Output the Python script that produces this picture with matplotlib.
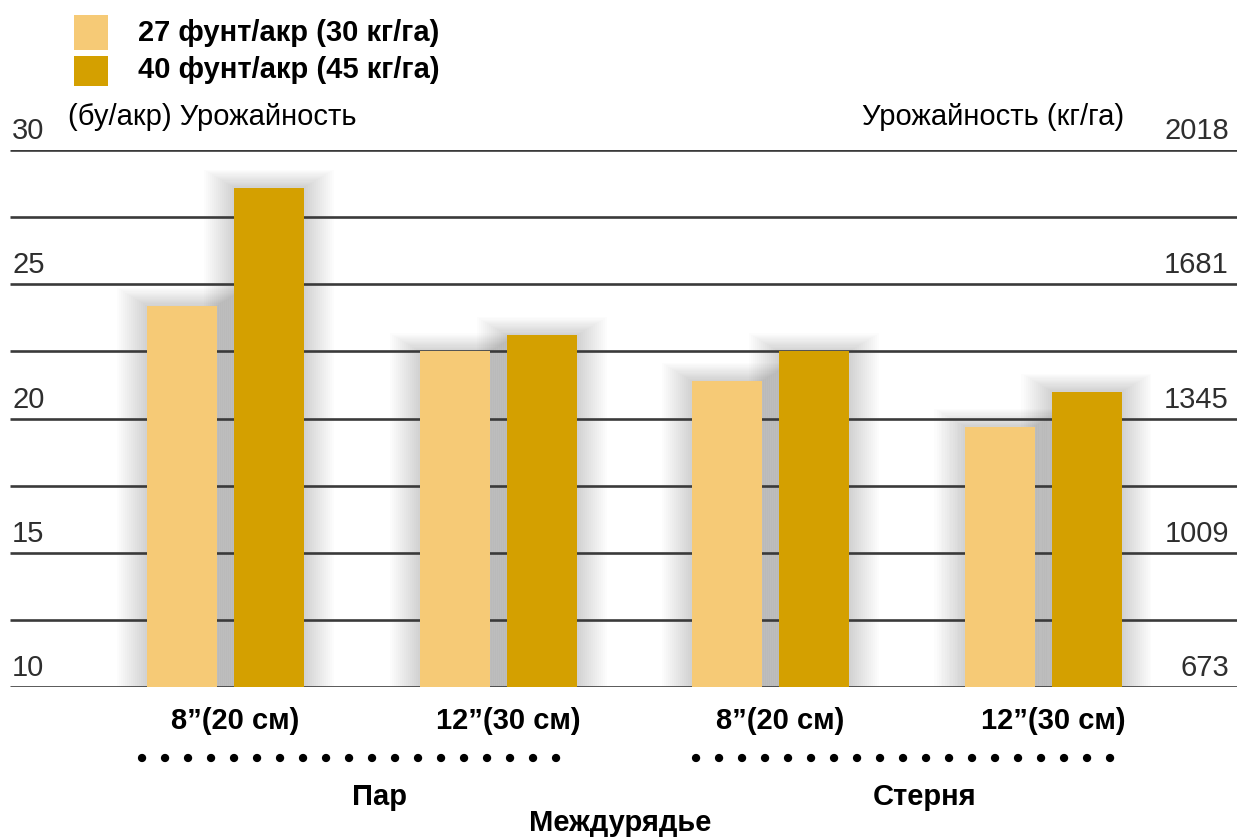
import matplotlib
matplotlib.use("Agg")
import matplotlib.pyplot as plt
from matplotlib.patches import Rectangle
from matplotlib.lines import Line2D

plt.rcParams['font.family'] = ['Liberation Sans', 'DejaVu Sans']

# ---- data ----
categories = ['8”(20 см)', '12”(30 см)', '8”(20 см)', '12”(30 см)']
groups = ['Пар', 'Стерня']
series_names = ['27 фунт/акр (30 кг/га)', '40 фунт/акр (45 кг/га)']
low_rate = [24.2, 22.5, 21.4, 19.7]
high_rate = [28.6, 23.1, 22.5, 21.0]
left_ticks = [10, 15, 20, 25, 30]
right_tick_labels = ['673', '1009', '1345', '1681', '2018']
grid_vals = [10, 12.5, 15, 17.5, 20, 22.5, 25, 27.5, 30]

c_light = '#F6CA76'
c_dark = '#D4A000'

W, H = 1237, 839
fig = plt.figure(figsize=(W / 100, H / 100), dpi=100)
fig.patch.set_facecolor('white')

def fx(px):
    return px / W

def fy(py):
    return 1 - py / H

# axes: y 10 at px 687, y 30 at px 150 ; group i centre at px 225.5 + 272.5*i
gx0, gsp = 225.5, 272.5
ax = fig.add_axes([0, fy(687), 1, (687 - 150) / H])
ax.set_xlim(-gx0 / gsp, (W - gx0) / gsp)
ax.set_ylim(10, 30)
ax.axis('off')

px_per_x = gsp
px_per_y = (687 - 150) / 20.0

bw = 70 / gsp
off = 43.5 / gsp

# gridlines
ax.hlines(grid_vals, (10 - gx0) / gsp, (W - gx0) / gsp, colors='#3a3a3a',
          linewidth=1.9, zorder=1)

def shadow(xc, h):
    for d in range(2, 32, 2):
        dx = d / px_per_x
        dy = 0.6 * d / px_per_y
        ax.add_patch(Rectangle((xc - bw / 2 - dx, 10), bw + 2 * dx, h - 10 + dy,
                               facecolor='black', alpha=0.011, lw=0, zorder=0.5))

xs = list(range(len(categories)))
for i in xs:
    shadow(i - off, low_rate[i])
    shadow(i + off, high_rate[i])

ax.bar([i - off for i in xs], [v - 10 for v in low_rate], bottom=10, width=bw,
       color=c_light, zorder=2, linewidth=0)
ax.bar([i + off for i in xs], [v - 10 for v in high_rate], bottom=10, width=bw,
       color=c_dark, zorder=2, linewidth=0)

# tick labels
tick_col = '#2e2e2e'
for v, rl in zip(left_ticks, right_tick_labels):
    py = 687 - (v - 10) * px_per_y
    fig.text(fx(12), fy(py - 11), str(v), fontsize=21, color=tick_col,
             ha='left', va='baseline')
    fig.text(fx(1229), fy(py - 11), rl, fontsize=21, color=tick_col,
             ha='right', va='baseline')

# axis titles
fig.text(fx(68), fy(117), '(бу/акр) Урожайность', fontsize=21, color='black',
         ha='left', va='center')
fig.text(fx(1124), fy(117), 'Урожайность (кг/га)', fontsize=21, color='black',
         ha='right', va='center')

# legend
fig.add_artist(Rectangle((fx(74), fy(50)), fx(108) - fx(74), (50 - 15) / H,
                         transform=fig.transFigure, facecolor=c_light, lw=0))
fig.add_artist(Rectangle((fx(74), fy(86)), fx(108) - fx(74), (86 - 56) / H,
                         transform=fig.transFigure, facecolor=c_dark, lw=0))
fig.text(fx(138), fy(33), series_names[0], fontsize=21, fontweight='bold',
         ha='left', va='center')
fig.text(fx(138), fy(70), series_names[1], fontsize=21, fontweight='bold',
         ha='left', va='center')

# category labels
for i, lab in enumerate(categories):
    fig.text(fx(gx0 + gsp * i + 10), fy(721), lab, fontsize=21, fontweight='bold',
             ha='center', va='center')

# dotted separators and group labels
dot_spans = [(142, 562), (696, 1116)]
group_label_x = [380, 925]
for (a, b), g, gxp in zip(dot_spans, groups, group_label_x):
    fig.add_artist(Line2D([fx(a), fx(b)], [fy(758), fy(758)], transform=fig.transFigure,
                          color='black', lw=6.0, linestyle=(0, (0.01, 2.75)),
                          dash_capstyle='round'))
    fig.text(fx(gxp), fy(797), g, fontsize=21, fontweight='bold',
             ha='center', va='center')

fig.text(fx(620), fy(823), 'Междурядье', fontsize=21, fontweight='bold',
         ha='center', va='center')

fig.savefig('out.png', dpi=100, facecolor='white')
